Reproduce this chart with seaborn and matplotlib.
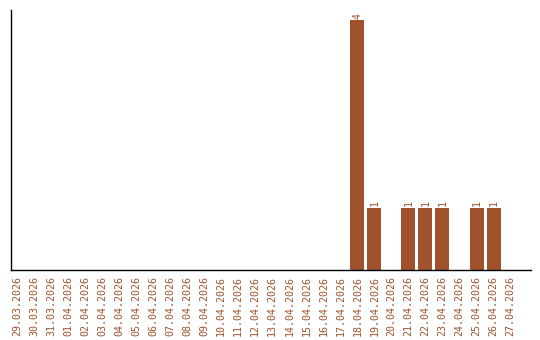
import matplotlib
matplotlib.use("Agg")
import matplotlib.pyplot as plt
import seaborn as sns
import pandas as pd

dates = ["29.03.2026", "30.03.2026", "31.03.2026", "01.04.2026", "02.04.2026",
         "03.04.2026", "04.04.2026", "05.04.2026", "06.04.2026", "07.04.2026",
         "08.04.2026", "09.04.2026", "10.04.2026", "11.04.2026", "12.04.2026",
         "13.04.2026", "14.04.2026", "15.04.2026", "16.04.2026", "17.04.2026",
         "18.04.2026", "19.04.2026", "20.04.2026", "21.04.2026", "22.04.2026",
         "23.04.2026", "24.04.2026", "25.04.2026", "26.04.2026", "27.04.2026"]
counts = [0, 0, 0, 0, 0, 0, 0, 0, 0, 0,
          0, 0, 0, 0, 0, 0, 0, 0, 0, 0,
          4, 1, 0, 1, 1, 1, 0, 1, 1, 0]

color = "#A0522D"
df = pd.DataFrame({"date": dates, "count": counts})

sns.set_style("white")
plt.rcParams["font.family"] = ["DejaVu Sans Mono", "DejaVu Sans"]

fig = plt.figure(figsize=(5.4, 3.4), dpi=100)
ax = fig.add_axes([11/540, 70/340, 520/540, 260/340])
sns.barplot(data=df, x="date", y="count", color=color, saturation=1,
            width=14/17, linewidth=0, ax=ax)

ax.set_xlim(-0.35, 30.2)
ax.set_ylim(0, 4.16)
ax.set_xlabel("")
ax.set_ylabel("")
ax.set_yticks([])
ax.tick_params(axis="x", length=0, pad=4, labelsize=7.2, labelcolor=color,
               rotation=90)
for s in ["top", "right"]:
    ax.spines[s].set_visible(False)
for s in ["left", "bottom"]:
    ax.spines[s].set_color("black")
    ax.spines[s].set_linewidth(1)

cont = ax.containers[0]
labels = [str(v) if v > 0 else "" for v in counts]
ax.bar_label(cont, labels=labels, rotation=90, fontsize=7.2, color=color,
             padding=1)

fig.savefig("out.png", dpi=100)
